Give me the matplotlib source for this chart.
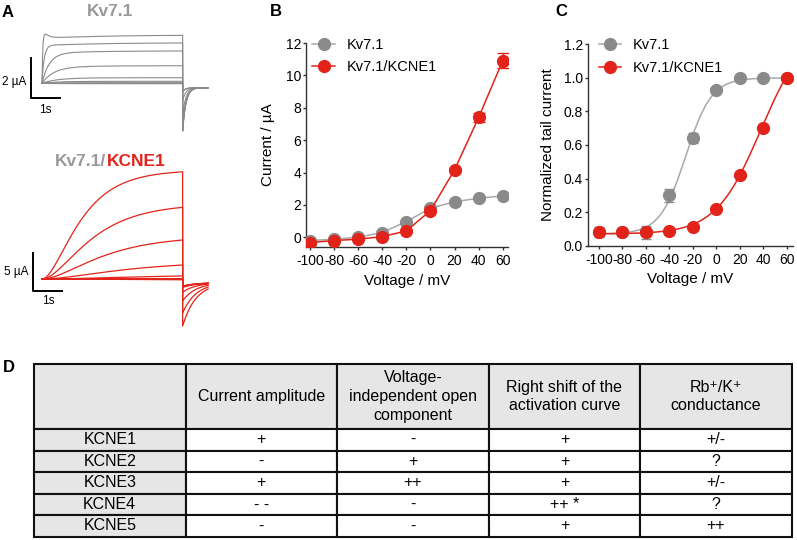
import numpy as np
import matplotlib
matplotlib.use("Agg")
import matplotlib.pyplot as plt

plt.rcParams['font.family'] = ['Liberation Sans', 'DejaVu Sans']
plt.rcParams['axes.unicode_minus'] = False

# ============================================================
# DATA
# ============================================================

voltage = [-100, -80, -60, -40, -20, 0, 20, 40, 60]

# panel B : I/V
iv_kv71 = [-0.20, -0.12, 0.00, 0.29, 0.97, 1.79, 2.20, 2.41, 2.56]
iv_kv71_err = [0.03, 0.03, 0.03, 0.03, 0.04, 0.05, 0.05, 0.05, 0.05]
iv_kcne1 = [-0.33, -0.20, -0.12, 0.04, 0.39, 1.65, 4.16, 7.40, 10.90]
iv_kcne1_err = [0.03, 0.03, 0.03, 0.03, 0.05, 0.08, 0.10, 0.29, 0.46]

# panel C : normalized tail current
tail_kv71 = [0.08, 0.08, 0.08, 0.30, 0.64, 0.93, 1.00, 1.00, 1.00]
tail_kv71_err = [0.03, 0.025, 0.04, 0.04, 0.03, 0.01, 0.01, 0.01, 0.01]
tail_kcne1 = [0.08, 0.08, 0.08, 0.09, 0.11, 0.22, 0.42, 0.70, 1.00]
tail_kcne1_err = [0.01, 0.01, 0.01, 0.01, 0.01, 0.01, 0.01, 0.01, 0.01]

# Boltzmann fit (bottom, top, V1/2, slope)
boltz_kv71 = (0.07, 1.00, -26.0, 11.0)
boltz_kcne1 = (0.07, 1.30, 37.5, 19.0)

# panel A : current traces (level at end of pulse, uA)
trace_kv71_level = [-0.02, 0.00, 0.03, 0.10, 0.28, 0.88, 1.62, 2.02, 2.40]
trace_kv71_tau = [0.5, 0.5, 0.5, 0.5, 0.5, 0.4, 0.25, 0.08, 0.03]
trace_kv71_hump = [0, 0, 0, 0, 0, 0, 0, 0.10, 0.55]
trace_kv71_hold = -0.22
trace_kv71_tailmax = -2.15

trace_kcne1_level = [-0.10, -0.05, 0.00, 0.05, 0.40, 1.84, 5.13, 9.43, 14.10]
trace_kcne1_tau = [3.0, 3.0, 3.0, 3.0, 3.0, 2.2, 1.6, 1.3, 1.0]
trace_kcne1_hold = -0.49
trace_kcne1_tailmax = -5.70

pulse_len = 4.8
tail_len = 0.87

# table D
table_cols = ['', 'Current amplitude', 'Voltage-\nindependent open\ncomponent',
              'Right shift of the\nactivation curve', 'Rb\u207a/K\u207a\nconductance']
table_rows = ['KCNE1', 'KCNE2', 'KCNE3', 'KCNE4', 'KCNE5']
col_amplitude = ['+', '-', '+', '- -', '-']
col_open = ['-', '+', '++', '-', '-']
col_shift = ['+', '+', '+', '++ *', '+']
col_rbk = ['+/-', '?', '+/-', '?', '++']

# ============================================================
# LAYOUT HELPERS
# ============================================================

W, H = 797, 540
GREY = '#8a8a8a'
GREY_LINE = '#a8a8a8'
RED = '#e2231a'


def px_box(x0, y0, x1, y1):
    return [x0 / W, 1 - y1 / H, (x1 - x0) / W, (y1 - y0) / H]


def px_text(x, y, s, **kw):
    fig.text(x / W, 1 - y / H, s, **kw)


fig = plt.figure(figsize=(W / 100, H / 100), dpi=100)

# ============================================================
# PANEL A
# ============================================================

t_on = np.linspace(0, pulse_len, 500)
t_off = np.linspace(0, tail_len, 150)


def trace_axes(box, x0, base, ppx_s, ppx_i):
    ax = fig.add_axes(px_box(*box))
    ax.set_xlim((box[0] - x0) / ppx_s, (box[2] - x0) / ppx_s)
    ax.set_ylim((base - box[3]) / ppx_i, (base - box[1]) / ppx_i)
    ax.axis('off')
    return ax


ax_a1 = trace_axes((0, 20, 215, 140), 42, 83.3, 29.3, 20.1)
for lev, tau, hump, frac in zip(trace_kv71_level, trace_kv71_tau,
                                trace_kv71_hump, tail_kv71):
    on = lev * (0.93 * (1 - np.exp(-t_on / tau)) + 0.07 * (1 - np.exp(-t_on / 2.0)))
    on += hump * np.exp(-t_on / 0.15) * (1 - np.exp(-t_on / 0.02))
    start = trace_kv71_hold + trace_kv71_tailmax * frac
    off = trace_kv71_hold + (start - trace_kv71_hold) * np.exp(-t_off / 0.11)
    ax_a1.plot(np.concatenate([t_on, pulse_len + t_off]),
               np.concatenate([on, off]), color=GREY, lw=0.8)

sb_t, sb_i = -0.386, -0.746
ax_a1.plot([sb_t, sb_t, sb_t + 1], [sb_i + 2, sb_i, sb_i], color='k', lw=1.4)
ax_a1.text(-0.52, 0.05, '2 \u00b5A', ha='right', va='center', fontsize=8.5)
ax_a1.text(0.1, -1.33, '1s', ha='center', va='center', fontsize=8.5)

ax_a2 = trace_axes((0, 165, 215, 335), 42, 279, 29.3, 7.6)
for lev, tau, frac in zip(trace_kcne1_level, trace_kcne1_tau, tail_kcne1):
    g = (1 - np.exp(-t_on / tau)) ** 2
    on = lev * g / g[-1]
    start = trace_kcne1_hold + trace_kcne1_tailmax * frac
    off = trace_kcne1_hold + (start - trace_kcne1_hold) * np.exp(-t_off / 0.45)
    ax_a2.plot(np.concatenate([t_on, pulse_len + t_off]),
               np.concatenate([on, off]), color=RED, lw=0.9)

sb_t, sb_i = -0.317, -1.54
ax_a2.plot([sb_t, sb_t, sb_t + 1], [sb_i + 5, sb_i, sb_i], color='k', lw=1.4)
ax_a2.text(-0.47, 0.96, '5 \u00b5A', ha='right', va='center', fontsize=8.5)
ax_a2.text(0.2, -2.89, '1s', ha='center', va='center', fontsize=8.5)

px_text(110.5, 12, 'Kv7.1', color='#999999', fontsize=12.5, fontweight='bold',
        ha='center', va='center')
px_text(106.5, 161.7, 'Kv7.1/', color='#999999', fontsize=12.5, fontweight='bold',
        ha='right', va='center')
px_text(106.5, 161.7, 'KCNE1', color=RED, fontsize=12.5, fontweight='bold',
        ha='left', va='center')

# ============================================================
# PANELS B, C
# ============================================================


def style_axes(ax):
    for s in ['top', 'right']:
        ax.spines[s].set_visible(False)
    for s in ['left', 'bottom']:
        ax.spines[s].set_linewidth(1.0)
        ax.spines[s].set_color('#333333')
    ax.tick_params(direction='out', length=2.5, width=1.0, color='#333333',
                   labelsize=10)
    ax.tick_params(axis='y', pad=1)
    ax.tick_params(axis='x', pad=2.5)
    ax.set_xticks(voltage)


axB = fig.add_axes(px_box(306, 43, 508, 247))
style_axes(axB)
axB.set_xlim(-103.3, 64.4)
axB.set_ylim(-0.6, 12)
axB.set_yticks([0, 2, 4, 6, 8, 10, 12])

axB.errorbar(voltage, iv_kv71, yerr=iv_kv71_err, fmt='none', ecolor=GREY,
             elinewidth=1, capsize=4, zorder=2)
axB.plot(voltage, iv_kv71, '-o', color=GREY_LINE, mfc=GREY, mec=GREY,
         ms=8.5, lw=1.1, label='Kv7.1', zorder=3)
axB.errorbar(voltage, iv_kcne1, yerr=iv_kcne1_err, fmt='none', ecolor=RED,
             elinewidth=1, capsize=4, zorder=4)
axB.plot(voltage, iv_kcne1, '-o', color=RED, mfc=RED, mec=RED,
         ms=8.5, lw=1.1, label='Kv7.1/KCNE1', zorder=5)

axB.set_xlabel('Voltage / mV', fontsize=11, labelpad=4)
axB.set_ylabel('Current / \u00b5A', fontsize=11, labelpad=8)
axB.legend(loc='center left', bbox_to_anchor=(312 / W, 1 - 56 / H),
           bbox_transform=fig.transFigure, frameon=False, fontsize=10.5,
           handlelength=1.6, handletextpad=0.8, labelspacing=0.6,
           borderpad=0, borderaxespad=0)


def boltzmann(v, p):
    bottom, top, vh, k = p
    return bottom + (top - bottom) / (1 + np.exp((vh - v) / k))


axC = fig.add_axes(px_box(587.7, 44.3, 793, 245.7))
style_axes(axC)
axC.set_xlim(-109.4, 65.2)
axC.set_ylim(0, 1.2)
axC.set_yticks([0.0, 0.2, 0.4, 0.6, 0.8, 1.0, 1.2])
axC.set_yticklabels(['0.0', '0.2', '0.4', '0.6', '0.8', '1.0', '1.2'])

v_fit = np.linspace(-100, 60, 300)
axC.plot(v_fit, boltzmann(v_fit, boltz_kv71), color=GREY_LINE, lw=1.1, zorder=2)
axC.plot(v_fit, boltzmann(v_fit, boltz_kcne1), color=RED, lw=1.1, zorder=2)
axC.errorbar(voltage, tail_kv71, yerr=tail_kv71_err, fmt='none', ecolor=GREY,
             elinewidth=1, capsize=3.5, zorder=3)
axC.errorbar(voltage, tail_kcne1, yerr=tail_kcne1_err, fmt='none', ecolor=RED,
             elinewidth=1, capsize=3.5, zorder=3)
axC.plot(voltage, tail_kv71, 'o', mfc=GREY, mec=GREY, ms=8.5, zorder=4)
axC.plot(voltage, tail_kcne1, 'o', mfc=RED, mec=RED, ms=8.5, zorder=5)
hC1, = axC.plot([], [], '-o', color=GREY_LINE, mfc=GREY, mec=GREY, ms=8.5, lw=1.1)
hC2, = axC.plot([], [], '-o', color=RED, ms=8.5, lw=1.1)

axC.set_xlabel('Voltage / mV', fontsize=11, labelpad=4)
axC.set_ylabel('Normalized tail current', fontsize=11, labelpad=6)
axC.legend([hC1, hC2], ['Kv7.1', 'Kv7.1/KCNE1'], loc='center left',
           bbox_to_anchor=(599 / W, 1 - 56.7 / H),
           bbox_transform=fig.transFigure, frameon=False, fontsize=10.5,
           handlelength=1.5, handletextpad=0.8, labelspacing=0.6,
           borderpad=0, borderaxespad=0)

# ============================================================
# TABLE D
# ============================================================

axT = fig.add_axes(px_box(34, 364, 791.7, 536.7))
axT.axis('off')

cell_text = [table_cols]
for i, name in enumerate(table_rows):
    cell_text.append([name, col_amplitude[i], col_open[i], col_shift[i], col_rbk[i]])

tab = axT.table(cellText=cell_text, cellLoc='center', bbox=[0, 0, 1, 1])
tab.auto_set_font_size(False)
tab.set_fontsize(11.5)

for (r, c), cell in tab.get_celld().items():
    cell.set_width(1)
    cell.set_height(65 if r == 0 else 21.54)
    cell.set_linewidth(1.5)
    cell.set_edgecolor('#111111')
    cell.set_facecolor('#e6e6e6' if (r == 0 or c == 0) else 'white')
    cell.get_text().set_linespacing(1.3)

# ============================================================
# PANEL LETTERS
# ============================================================

for x, y, s in [(8, 12.5, 'A'), (276, 12, 'B'), (561, 12, 'C'), (9, 367.5, 'D')]:
    px_text(x, y, s, fontsize=12, fontweight='bold', ha='center', va='center')

fig.savefig('out.png', dpi=100)
